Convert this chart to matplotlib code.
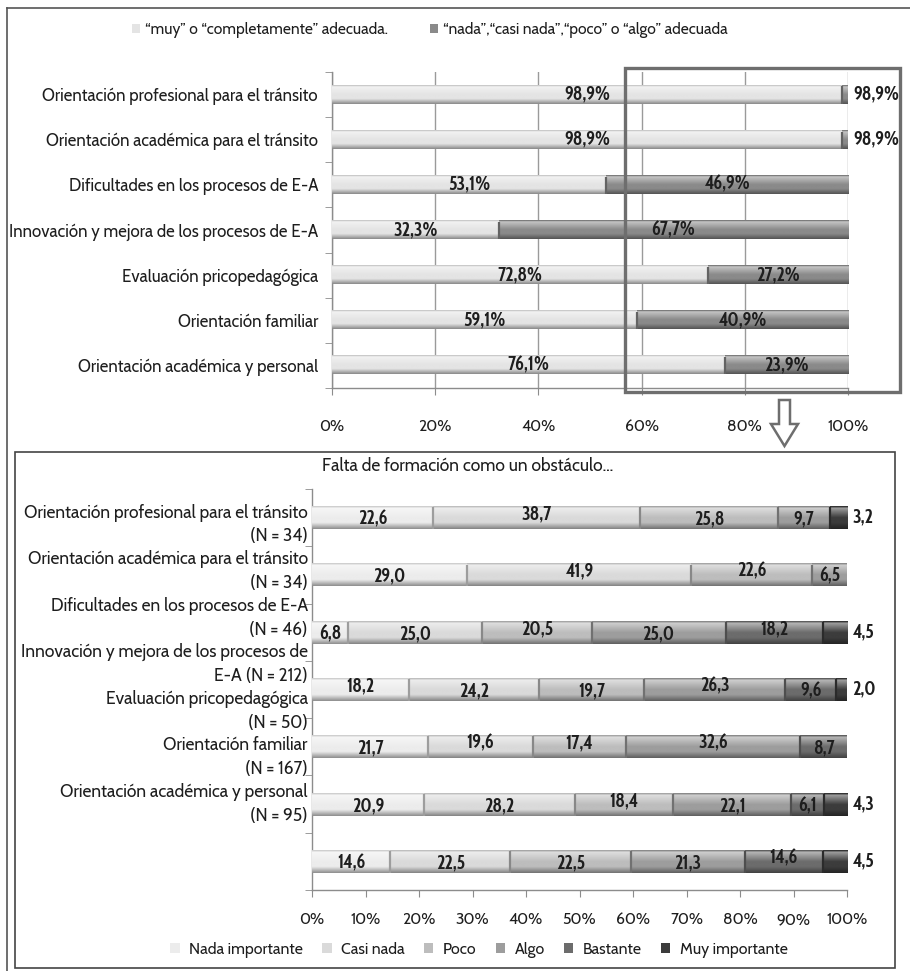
import numpy as np
import matplotlib
matplotlib.use("Agg")
import matplotlib.pyplot as plt
from matplotlib.patches import Rectangle, Polygon
from matplotlib.lines import Line2D
from matplotlib.colors import to_rgb
import matplotlib.transforms as mtransforms

# ---------------- data: adequacy of training (top panel) ----------------
areas = [
    "Orientación profesional para el tránsito",
    "Orientación académica para el tránsito",
    "Dificultades en los procesos de E-A",
    "Innovación y mejora de los procesos de E-A",
    "Evaluación pricopedagógica",
    "Orientación familiar",
    "Orientación académica y personal",
]
adequate = [98.9, 98.9, 53.1, 32.3, 72.8, 59.1, 76.1]
not_adequate = [1.1, 1.1, 46.9, 67.7, 27.2, 40.9, 23.9]
adequate_labels = ["98,9%", "98,9%", "53,1%", "32,3%", "72,8%", "59,1%", "76,1%"]
not_adequate_labels = ["98,9%", "98,9%", "46,9%", "67,7%", "27,2%", "40,9%", "23,9%"]
top_series = ["“muy” o “completamente” adecuada.",
              "“nada”,“casi nada”,“poco” o “algo” adecuada"]
top_ticks = [0, 20, 40, 60, 80, 100]

# ---------------- data: lack of training as an obstacle (bottom panel) ----------------
obstacle_title = "Falta de formación como un obstáculo…"
obstacle_labels = [
    "Orientación profesional para el tránsito\n(N = 34)",
    "Orientación académica para el tránsito\n(N = 34)",
    "Dificultades en los procesos de E-A\n(N = 46)",
    "Innovación y mejora de los procesos de\nE-A (N = 212)",
    "Evaluación pricopedagógica\n(N = 50)",
    "Orientación familiar\n(N = 167)",
    "Orientación académica y personal\n(N = 95)",
]
levels = ["Nada importante", "Casi nada", "Poco", "Algo", "Bastante", "Muy importante"]
nada = [22.6, 29.0, 6.8, 18.2, 21.7, 20.9, 14.6]
casi_nada = [38.7, 41.9, 25.0, 24.2, 19.6, 28.2, 22.5]
poco = [25.8, 22.6, 20.5, 19.7, 17.4, 18.4, 22.5]
algo = [9.7, 6.5, 25.0, 26.3, 32.6, 22.1, 21.3]
bastante = [0, 0, 18.2, 9.6, 8.7, 6.1, 14.6]
muy = [3.2, 0, 4.5, 2.0, 0, 4.3, 4.5]
bottom_ticks = list(range(0, 101, 10))

# ---------------- styling ----------------
W, H = 910, 971
LABEL_FONT = ["Cabin", "Lato", "DejaVu Sans"]
VALUE_FONT = ["Cabin Condensed", "Roboto Condensed", "Lato", "DejaVu Sans"]
TEXT_C = "#1e1e1e"
AXIS_C = "#8c8c8c"
top_colors = ["#e4e4e4", "#8a8a8a"]
level_colors = ["#ececec", "#dadada", "#bdbdbd", "#9d9d9d", "#6c6c6c", "#3c3c3c"]
# (row, level) value labels that sit a little higher inside their segment
raised_labels = {(0, 1), (1, 1), (1, 2), (2, 2), (2, 4), (3, 0), (3, 3),
                 (4, 1), (4, 2), (4, 3), (5, 2), (6, 4)}

plt.rcParams["font.family"] = LABEL_FONT

fig = plt.figure(figsize=(W / 100, H / 100), dpi=100)
fig.patch.set_facecolor("white")


def fig_box(x0, y0, x1, y1):
    """pixel box (top-left origin) -> figure-fraction rect"""
    return [x0 / W, 1 - y1 / H, (x1 - x0) / W, (y1 - y0) / H]


def fx(x):
    return x / W


def fy(y):
    return 1 - y / H


def shade(ax, patch, color):
    """paint a bar with a bevelled vertical gradient"""
    w = patch.get_width()
    if w <= 0:
        return
    x0, y0, h = patch.get_x(), patch.get_y(), patch.get_height()
    base = np.array(to_rgb(color))
    t = np.linspace(0, 1, 80)
    white = np.clip(0.6 * (1 - t / 0.5), 0, None) * (t > 0.06)
    black = np.where(t < 0.06, 0.12, 0.0) + np.clip((t - 0.72) / 0.28, 0, 1) * 0.40
    rgb = base[None, :] * (1 - white[:, None]) + white[:, None]
    rgb = rgb * (1 - black[:, None])
    img = np.repeat(rgb[:, None, :], 4, axis=1)
    ax.imshow(img, extent=(x0, x0 + w, y0 + h, y0), aspect="auto",
              interpolation="bilinear", zorder=patch.get_zorder() + 0.1)
    # bevel at the start of the segment
    if x0 > 0.01:
        edge = base * 0.72
        ax.plot([x0, x0], [y0 + 0.05 * h, y0 + h], color=edge, lw=1.6,
                zorder=patch.get_zorder() + 0.2, solid_capstyle="butt")


def value_text(ax, x, y, s, ha="center", lift=0.0):
    tr = mtransforms.offset_copy(ax.transData, fig=fig, y=lift, units="dots")
    ax.text(x, y, s, ha=ha, va="center", fontsize=13.5, fontweight="bold",
            color=TEXT_C, family=VALUE_FONT, zorder=6, clip_on=False,
            transform=tr)


# ======================= top panel =======================
ax1 = fig.add_axes(fig_box(332, 72, 848, 388))
y1 = np.arange(len(areas))
bars_a = ax1.barh(y1, adequate, height=0.4, color=top_colors[0], zorder=3,
                  label=top_series[0])
bars_n = ax1.barh(y1, not_adequate, left=adequate, height=0.4,
                  color=top_colors[1], zorder=3, label=top_series[1])
for p in bars_a:
    shade(ax1, p, top_colors[0])
for p in bars_n:
    shade(ax1, p, top_colors[1])

for i in range(len(areas)):
    value_text(ax1, adequate[i] / 2, y1[i], adequate_labels[i])
    if not_adequate[i] < 5:
        value_text(ax1, 101.0, y1[i], not_adequate_labels[i], ha="left")
    else:
        value_text(ax1, adequate[i] + not_adequate[i] / 2, y1[i],
                   not_adequate_labels[i])

ax1.set_xlim(0, 100)
ax1.set_ylim(len(areas) - 0.5, -0.5)
ax1.set_xticks(top_ticks)
ax1.set_xticklabels([f"{t}%" for t in top_ticks])
ax1.set_yticks(y1)
ax1.set_yticklabels(areas)
ax1.set_yticks(np.arange(-0.5, len(areas)), minor=True)
ax1.tick_params(axis="y", which="major", length=0, pad=10, labelsize=12.1,
                labelcolor=TEXT_C)
ax1.tick_params(axis="y", which="minor", length=5, color=AXIS_C, direction="out")
ax1.tick_params(axis="x", length=5, color=AXIS_C, pad=17, labelsize=11.3,
                labelcolor=TEXT_C)
ax1.grid(axis="x", color="#9a9a9a", lw=1.0, zorder=0)
for s in ("top", "right"):
    ax1.spines[s].set_visible(False)
for s in ("left", "bottom"):
    ax1.spines[s].set_color(AXIS_C)
    ax1.spines[s].set_linewidth(1.0)

fig.legend(handles=[bars_a, bars_n], labels=top_series, loc="center",
           bbox_to_anchor=(fx(430), fy(30)), ncol=2, frameon=False,
           fontsize=11.2, handlelength=0.5, handleheight=0.5,
           handletextpad=0.35, columnspacing=2.7, labelcolor=TEXT_C)

# ======================= bottom panel =======================
ax2 = fig.add_axes(fig_box(312, 489, 847, 890))
y2 = np.arange(len(obstacle_labels))
series = [nada, casi_nada, poco, algo, bastante, muy]
left = np.zeros(len(y2))
containers = []
for k, vals in enumerate(series):
    vals = np.array(vals, dtype=float)
    bc = ax2.barh(y2, vals, left=left, height=0.4, color=level_colors[k],
                  zorder=3, label=levels[k])
    containers.append(bc)
    for p in bc:
        shade(ax2, p, level_colors[k])
    for i, v in enumerate(vals):
        if v <= 0:
            continue
        txt = f"{v:.1f}".replace(".", ",")
        if k == len(series) - 1:
            value_text(ax2, 101.0, y2[i], txt, ha="left")
        else:
            lift = 3 if (i, k) in raised_labels else -2
            value_text(ax2, left[i] + v / 2, y2[i], txt, lift=lift)
    left = left + vals

ax2.set_xlim(0, 100)
ax2.set_ylim(len(y2) - 0.5, -0.5)
ax2.set_xticks(bottom_ticks)
ax2.set_xticklabels([f"{t}%" for t in bottom_ticks])
ax2.set_yticks([])
ax2.set_yticks(np.arange(-0.5, len(y2)), minor=True)
ax2.tick_params(axis="y", which="minor", length=5, color=AXIS_C, direction="out")
ax2.tick_params(axis="x", length=5, color=AXIS_C, pad=11, labelsize=11.3,
                labelcolor=TEXT_C)
for s in ("top", "right"):
    ax2.spines[s].set_visible(False)
for s in ("left", "bottom"):
    ax2.spines[s].set_color(AXIS_C)
    ax2.spines[s].set_linewidth(1.0)

# category labels are stacked as a compact column beside the axis
label_tr = mtransforms.blended_transform_factory(ax2.transAxes, ax2.transData)
for i, lab in enumerate(obstacle_labels):
    ax2.text(-0.008, 0.12 + 0.813 * i, lab, transform=label_tr, ha="right",
             va="center", fontsize=12.5, color=TEXT_C, linespacing=1.42,
             multialignment="right", clip_on=False)

fig.text(fx(468), fy(466), obstacle_title, ha="center", va="center",
         fontsize=12.5, color=TEXT_C)

fig.legend(handles=containers, labels=levels, loc="center",
           bbox_to_anchor=(fx(479), fy(950)), ncol=6, frameon=False,
           fontsize=11.4, handlelength=0.6, handleheight=0.6,
           handletextpad=0.6, columnspacing=1.2, labelcolor=TEXT_C)

# ======================= frames and connector =======================
frame_c = "#555555"
fig.add_artist(Line2D([fx(7), fx(7)], [fy(8), 0], color=frame_c, lw=1.2))
fig.add_artist(Line2D([fx(7), 1], [fy(8), fy(8)], color=frame_c, lw=1.2))
fig.add_artist(Rectangle((fx(15), fy(968)), fx(895) - fx(15), fy(452) - fy(968),
                         fill=False, edgecolor="#444444", lw=1.2))
fig.add_artist(Rectangle((fx(625), fy(392)), fx(900) - fx(625), fy(68) - fy(392),
                         fill=False, edgecolor="#6e6e6e", lw=2.4))
arrow_pts = [(779, 400), (790, 400), (790, 424), (798, 424), (784.5, 446),
             (771, 424), (779, 424)]
fig.add_artist(Polygon([(fx(x), fy(y)) for x, y in arrow_pts], closed=True,
                       facecolor="white", edgecolor="#6e6e6e", lw=1.8))

fig.savefig("out.png", dpi=100, facecolor="white")
